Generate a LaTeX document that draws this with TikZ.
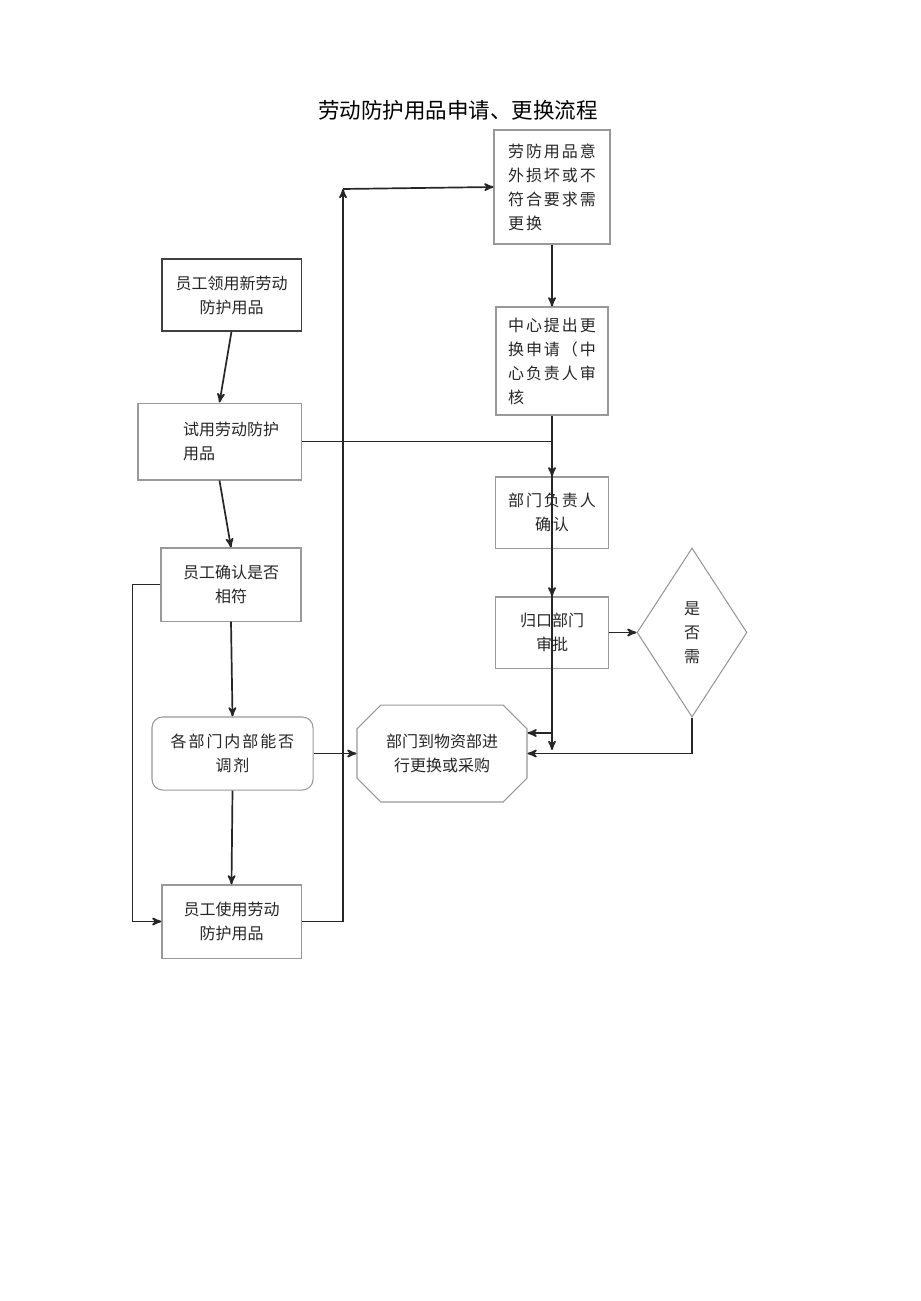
\documentclass[tikz,border=0pt]{standalone}
\usepackage{fontspec}
\newfontfamily\cjk{Noto Sans CJK SC}
\newfontfamily\cjksp{Noto Sans CJK SC}[LetterSpace=12]
\usetikzlibrary{arrows}
\usetikzlibrary{shapes.geometric,shapes.misc}

\tikzset{
  box/.style={draw=black!40,line width=0.7pt,inner sep=0pt,align=center,text=black!85,
    font=\cjk\fontsize{10.4}{15.6}\selectfont},
  spbox/.style={box,font=\cjksp\fontsize{10.4}{15.6}\selectfont},
  conn/.style={->,>=stealth',line width=1.1pt,draw=black!85}
}

\begin{document}
\begin{tikzpicture}[x=0.65pt,y=-0.65pt]
\useasboundingbox[fill=white] (0,0) rectangle (920,1301);

\node (title) at (458,110){\cjk\fontsize{14}{16}\selectfont 劳动防护用品申请、更换流程};

% left column
\node (A) at (231.5,295)[box,draw=black!75,minimum width=90.4pt,minimum height=46.8pt]{员工领用新劳动\\防护用品};
\node (B) at (219.5,441.5)[box,align=left,minimum width=106pt,minimum height=50pt]{\hspace*{15pt}试用劳动防护\\\hspace*{15pt}用品};
\node (C) at (231,584.5)[box,minimum width=91pt,minimum height=47.5pt]{员工确认是否\\相符};
\node (D) at (232.5,753.5)[spbox,rounded corners=7pt,minimum width=104.7pt,minimum height=47.5pt]{各部门内部能否\\调剂};
\node (E) at (231.5,921.5)[box,minimum width=90.4pt,minimum height=47.5pt]{员工使用劳动\\防护用品};

% right column
\node (F) at (552,187)[spbox,align=left,minimum width=75.4pt,minimum height=74.1pt]{劳防用品意\\外损坏或不\\符合要求需\\更换};
\node (G) at (552,361)[spbox,align=left,minimum width=72.8pt,minimum height=70.2pt]{中心提出更\\换申请（中\\心负责人审\\核};
\node (H) at (552,512.5)[spbox,minimum width=73.5pt,minimum height=46.2pt]{部门负责人\\确认};
\node (I) at (552,632.5)[box,minimum width=73.5pt,minimum height=46.2pt]{归口部门\\审批};
\node (Q) at (692,632.5)[box,diamond,minimum width=71.5pt,minimum height=109.9pt]{是\\否\\需};
\node (O) at (442,753.5)[box,chamfered rectangle,chamfered rectangle xsep=17pt,
  minimum width=110.5pt,minimum height=63pt]{部门到物资部进\\行更换或采购};

\coordinate (up) at (343,189);
\coordinate (jn) at (552,750);
\coordinate (jt) at (552,733);

\draw[conn] (A.south) -- (B.north);
\draw[conn] (B.south) -- (C.north);
\draw[conn] (C.south) -- (D.north);
\draw[conn] (D.south) -- (E.north);
\draw[conn] (C.west) -- ++(-28,0) |- (E.west);
\draw[conn] (D.east) -- (O.west);
\draw[conn] (E.east) -| (up);
\draw[conn] (up) -- (F.west);

\draw[conn] (F.south) -- (G.north);
\draw[conn] (G.south) -- (H.north);
\draw[conn] (B.east) -| (jn);
\draw[conn] (H.south) -- (I.north);
\draw[conn] (jt) -- (jt -| O.east);
\draw[conn] (I.east) -- (Q.west);
\draw[conn] (Q.south) |- (O.east);
\end{tikzpicture}
\end{document}
